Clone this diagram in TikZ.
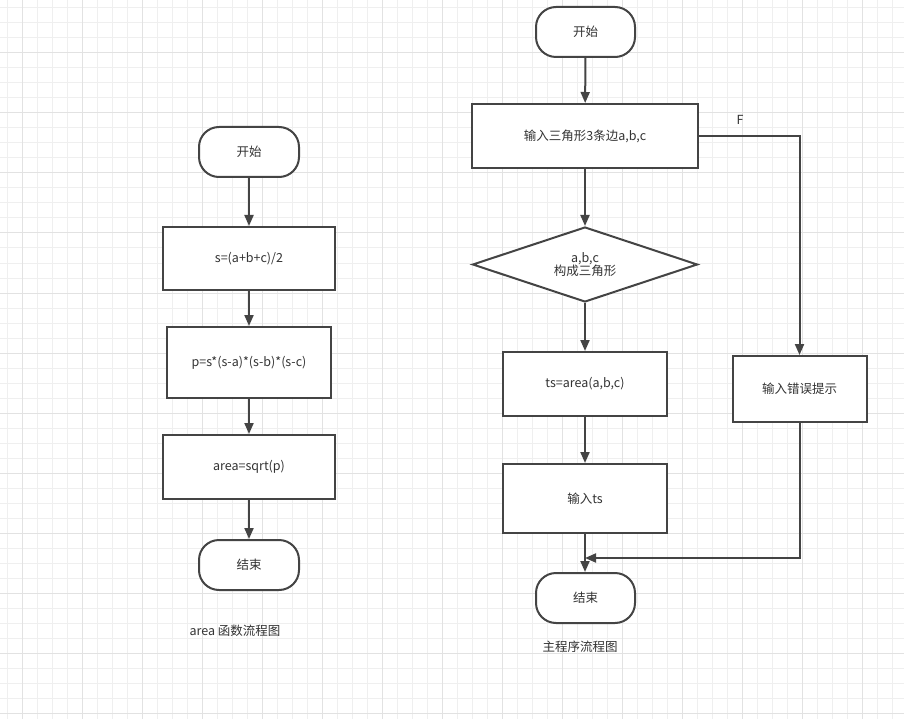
\documentclass[tikz,border=0pt]{standalone}
\usepackage{fontspec}
\setmainfont{Noto Sans CJK SC}
\usetikzlibrary{arrows.meta,shapes.geometric}
\definecolor{gridminor}{HTML}{EFEFEF}
\definecolor{gridmajor}{HTML}{E2E2E2}
\definecolor{stroke}{HTML}{444444}
\definecolor{txt}{HTML}{333333}
\begin{document}
\begin{tikzpicture}[x=1pt,y=-1pt,
  every node/.style={font=\fontsize{12.5pt}{15pt}\selectfont, text=txt},
  proc/.style={draw=stroke, line width=2pt, fill=white, rectangle, inner sep=0pt, align=center},
  term/.style={draw=stroke, line width=2pt, fill=white, rectangle, rounded corners=20pt, minimum width=100pt, minimum height=50pt, inner sep=0pt},
  decision/.style={draw=stroke, line width=2pt, fill=white, diamond, aspect=3, inner sep=0pt, minimum width=225pt, minimum height=75pt, align=center},
  flow/.style={draw=stroke, line width=2pt, -{Triangle[length=11pt,width=9pt]}},
  plain/.style={draw=stroke, line width=2pt}
]
\useasboundingbox (0,0) rectangle (904,719);
\fill[white] (0,0) rectangle (904,719);
% grid
\foreach \gx in {7,22,...,907} {\draw[gridminor, line width=1pt] (\gx,0) -- (\gx,719);}
\foreach \gy in {8,23,...,719} {\draw[gridminor, line width=1pt] (0,\gy) -- (904,\gy);}
\foreach \gx in {22,82,...,904} {\draw[gridmajor, line width=1pt] (\gx,0) -- (\gx,719);}
\foreach \gy in {53,113,...,719} {\draw[gridmajor, line width=1pt] (0,\gy) -- (904,\gy);}

% left flowchart
\node[term] (ls) at (249,152) {开始};
\node[proc, minimum width=172pt, minimum height=63pt] (l1) at (249,258.5) {s=(a+b+c)/2};
\node[proc, minimum width=164pt, minimum height=71pt] (l2) at (249,362.5) {p=s*(s-a)*(s-b)*(s-c)};
\node[proc, minimum width=172pt, minimum height=64pt] (l3) at (249,467) {area=sqrt(p)};
\node[term] (le) at (249,565) {结束};
\node (lcap) at (235,631) {area 函数流程图};

\draw[flow] (ls) -- (l1);
\draw[flow] (l1) -- (l2);
\draw[flow] (l2) -- (l3);
\draw[flow] (l3) -- (le);

% right flowchart
\node[term, minimum width=99pt] (rs) at (585.5,32) {开始};
\node[proc, minimum width=226pt, minimum height=64pt] (r1) at (585,136) {输入三角形3条边a,b,c};
\node[decision] (rd) at (585,264.5) {a,b,c\\[-2pt]构成三角形};
\node[proc, minimum width=164pt, minimum height=64pt] (r2) at (585,384) {ts=area(a,b,c)};
\node[proc, minimum width=164pt, minimum height=69pt] (r3) at (585,498.5) {输入ts};
\node[proc, minimum width=134pt, minimum height=66pt] (re) at (799.5,389) {输入错误提示};
\node[term, minimum width=99pt] (rend) at (585.5,598) {结束};
\node (flab) at (740,120) {F};
\node (rcap) at (580,647) {主程序流程图};
\coordinate (join) at (585,558);
\coordinate (fcorner) at (799.5,136);

\draw[flow] (rs) -- (r1);
\draw[flow] (r1) -- (rd);
\draw[flow] (rd) -- (r2);
\draw[flow] (r2) -- (r3);
\draw[flow] (r3) -- (r3.south |- rend.north);
\draw[flow] (r1.east) -- (fcorner) -- (re.north);
\draw[flow] (re.south) |- (join);
\end{tikzpicture}
\end{document}
